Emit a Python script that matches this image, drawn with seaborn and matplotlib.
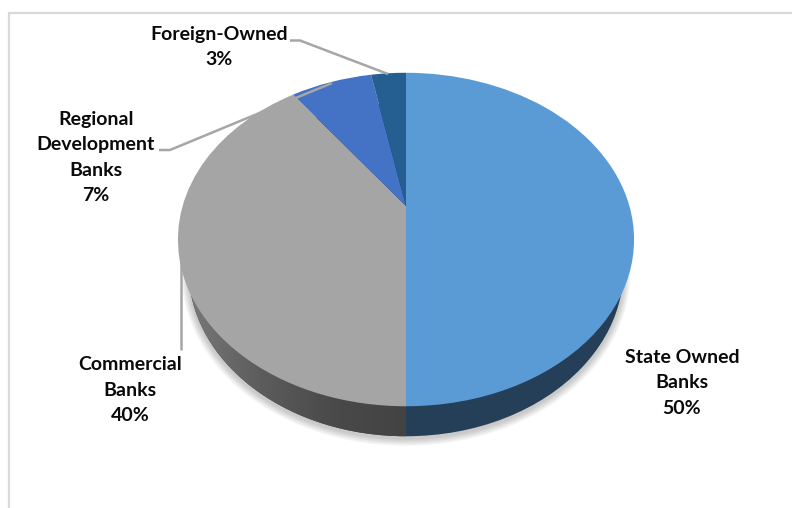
import numpy as np
import matplotlib
matplotlib.use('Agg')
import matplotlib.pyplot as plt
from matplotlib.transforms import Transform
import seaborn as sns

sns.set_theme(style="white")

# Values as printed on the chart
banks = ['State Owned\nBanks', 'Commercial\nBanks', 'Regional\nDevelopment\nBanks', 'Foreign-Owned']
shares = [50, 40, 7, 3]
top_colors = ['#5B9BD5', '#A5A5A5', '#4472C4', '#255E91']
wall_colors = ['#243F57', '#4A4A4A', '#2A4476', '#163856']

# Label centres and leader lines, in image pixels
label_pos = [(682, 383), (130, 390), (96, 157.5), (219, 47)]
leaders = [None, [(180.5, 260), (180.5, 350)], [(159, 150), (170, 150), (332, 83)], [(290, 40.5), (300, 40.5), (388, 74)]]


# Excel's 3D pie is a circle seen in perspective, so the apex sits above the ellipse centre
class TiltedDisc(Transform):
    input_dims = 2
    output_dims = 2
    is_separable = False

    def __init__(self, cx, cy, a, s, p=0.201):
        super().__init__()
        self.cx, self.cy, self.a, self.s, self.p = cx, cy, a, s, p

    def transform_non_affine(self, xy):
        xy = np.asarray(xy)
        den = 1 + self.p * xy[:, 1]
        return np.column_stack([self.cx + self.a * xy[:, 0] / den, self.cy - self.s * xy[:, 1] / den])


def tilted_pie(ax, values, colors, disc, zorder, radius=1, alpha=None):
    wedges, _ = ax.pie(values, colors=colors, startangle=90, counterclock=False, radius=radius,
                       wedgeprops={'linewidth': 0, 'alpha': alpha})
    for w in wedges:
        w.set_transform(disc + ax.transData)
        w.set_zorder(zorder)
    return wedges


fig = plt.figure(figsize=(7.92, 5.08), dpi=100)
ax = fig.add_axes([0, 0, 1, 1])

top_disc = TiltedDisc(406, 206, 223.4, 160)
low_disc = TiltedDisc(406, 236, 213, 160)

# soft shadow below the wall
for grow in [1.03, 1.024, 1.018, 1.012, 1.006]:
    tilted_pie(ax, [1], ['#000000'], TiltedDisc(406, 238, 213, 160), 1, radius=grow, alpha=0.045)

wall = tilted_pie(ax, shares, wall_colors, low_disc, 2)

# the grey wall is shaded from left to right
grey_ramp = sns.blend_palette(['#7C7C7C', '#5E5E5E', '#4A4A4A', '#434343'], as_cmap=True)
im = ax.imshow(np.linspace(0, 1, 256).reshape(1, -1), cmap=grey_ramp, extent=(180, 406, 440, 250),
               aspect='auto', zorder=3)
im.set_clip_path(wall[1])

tilted_pie(ax, shares, top_colors, top_disc, 4)

for line in leaders:
    if line:
        xs, ys = zip(*line)
        ax.plot(xs, ys, color='#A6A6A6', lw=1.8, zorder=5, solid_capstyle='butt')

for name, share, (x, y) in zip(banks, shares, label_pos):
    ax.text(x, y, f'{name}\n{share}%', ha='center', va='center', family='Lato', fontweight='bold',
            fontsize=14, color='#0A0A0A', linespacing=1.61, zorder=6)

# picture frame left over from the source screenshot
ax.plot([8.5, 8.5, 792], [508, 12.5, 12.5], color='#D9D9D9', lw=1.6, zorder=5, solid_joinstyle='miter')

ax.set_aspect('auto')
ax.set_xlim(0, 792)
ax.set_ylim(508, 0)
ax.axis('off')

fig.savefig('out.png', dpi=100, facecolor='white')
